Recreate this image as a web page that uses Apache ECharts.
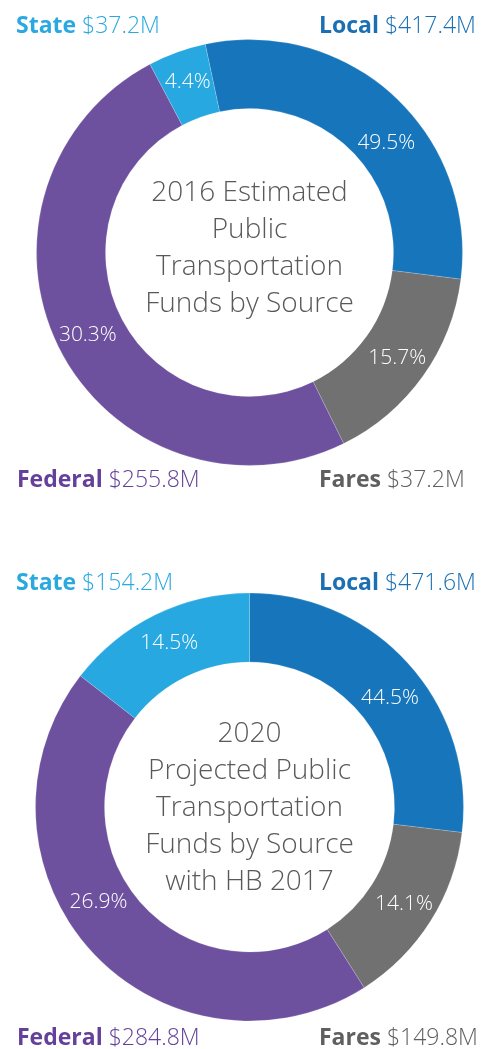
<!DOCTYPE html>
<html>
<head>
<meta charset="utf-8">
<script src="https://cdn.jsdelivr.net/npm/echarts@6/dist/echarts.min.js"></script>
<style>
  html, body { margin: 0; padding: 0; background: #fff; }
  #chart { width: 486px; height: 1049px; }
</style>
</head>
<body>
<div id="chart"></div>
<script>
// sources in drawing order (clockwise from the Local slice)
const sources = ['Local', 'Fares', 'Federal', 'State']
const sliceColors = ['#1776bb', '#727172', '#6e519e', '#27a8e0']
const nameColors = {Local: '#1b70b4', Fares: '#5f5f5f', Federal: '#64409a', State: '#2aa9e0'}

// slice sizes as drawn in the reference (share of the ring)
const arc2016 = [30.3, 15.7, 49.5, 4.4]
const arc2020 = [26.9, 14.1, 44.5, 14.5]
// percentages printed on the slices
const pct2016 = ['49.5%', '15.7%', '30.3%', '4.4%']
const pct2020 = ['44.5%', '14.1%', '26.9%', '14.5%']
// dollar amounts printed in the corners
const amt2016 = {State: '$37.2M', Local: '$417.4M', Federal: '$255.8M', Fares: '$37.2M'}
const amt2020 = {State: '$154.2M', Local: '$471.6M', Federal: '$284.8M', Fares: '$149.8M'}

const title2016 = '2016 Estimated\nPublic\nTransportation\nFunds by Source'
const title2020 = '2020\nProjected Public\nTransportation\nFunds by Source\nwith HB 2017'

const FONT = '"Open Sans", "Liberation Sans", sans-serif'

// the printed percentages are not all on the middle of their slice
const nudge2016 = {0: [14, 24]}
const nudge2020 = {0: [4, 12], 2: [-16, -28]}

function ring(values, pcts, center, radius, startAngle, nudge) {
  return {
    type: 'pie',
    center: center,
    radius: radius,
    startAngle: startAngle,
    clockwise: true,
    silent: true,
    avoidLabelOverlap: false,
    itemStyle: {borderColor: 'rgba(255,255,255,0.35)', borderWidth: 0.5},
    label: {
      show: true,
      position: 'inside',
      color: '#fff',
      fontFamily: FONT,
      fontWeight: 300,
      fontSize: 21,
      formatter: p => pcts[p.dataIndex]
    },
    labelLine: {show: false},
    labelLayout: p => {
      const d = nudge[p.dataIndex]
      return d ? {dx: d[0], dy: d[1]} : {}
    },
    data: sources.map((s, i) => ({
      name: s,
      value: values[i],
      itemStyle: {color: sliceColors[i]}
    }))
  }
}

function cornerLabel(name, amount, x, y) {
  return {
    type: 'text',
    x: x,
    y: y,
    style: {
      text: '{n|' + name + '}{v|' + amount + '}',
      verticalAlign: 'middle',
      rich: {
        n: {fontFamily: FONT, fontWeight: 'bold', fontSize: 23, fill: nameColors[name], padding: [0, 6, 0, 0]},
        v: {fontFamily: FONT, fontWeight: 300, fontSize: 23, fill: nameColors[name]}
      }
    }
  }
}

function centerText(text, y) {
  return {
    type: 'text',
    x: 249.5,
    y: y,
    style: {
      text: text,
      align: 'center',
      verticalAlign: 'middle',
      fontFamily: FONT,
      fontWeight: 300,
      fontSize: 28,
      lineHeight: 37,
      fill: '#595959'
    }
  }
}

const chart = echarts.init(document.getElementById('chart'))
chart.setOption({
  animation: false,
  series: [
    ring(arc2016, pct2016, [249.5, 252.5], [144, 213], 102, nudge2016),
    ring(arc2020, pct2020, [249.5, 807], [145, 214], 90, nudge2020)
  ],
  graphic: [
    cornerLabel('State', amt2016.State, 16, 26),
    cornerLabel('Local', amt2016.Local, 319, 26),
    cornerLabel('Federal', amt2016.Federal, 17, 480),
    cornerLabel('Fares', amt2016.Fares, 319, 480),
    cornerLabel('State', amt2020.State, 16, 583),
    cornerLabel('Local', amt2020.Local, 319, 583),
    cornerLabel('Federal', amt2020.Federal, 17, 1038),
    cornerLabel('Fares', amt2020.Fares, 319, 1038),
    centerText(title2016, 249),
    centerText(title2020, 808)
  ]
})
</script>
</body>
</html>
